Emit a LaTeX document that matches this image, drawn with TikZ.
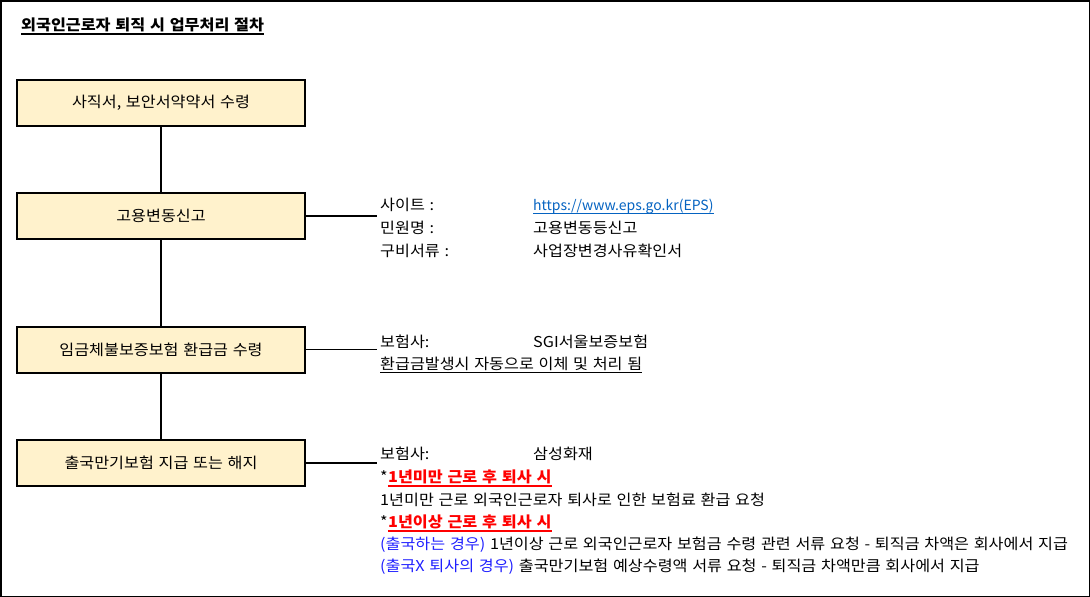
\documentclass[tikz,border=0pt]{standalone}
\usepackage{fontspec}
\setmainfont{Noto Sans CJK KR}[FakeStretch=1.08, WordSpace=1.3]
\newfontfamily\urlfont{Noto Sans CJK KR}
\definecolor{boxfill}{HTML}{FFF2CC}
\definecolor{linkblue}{HTML}{0563C1}
\definecolor{noteblue}{HTML}{2020FF}
\definecolor{notered}{HTML}{FF0000}
\tikzset{
  stepbox/.style={draw=black, line width=2pt, fill=boxfill, minimum width=288pt, minimum height=46pt, inner sep=0pt, font=\fontsize{15}{17}\selectfont},
  conn/.style={draw=black, line width=1.8pt},
  txt/.style={anchor=base west, inner sep=0pt, font=\fontsize{15}{17}\selectfont},
  uline/.style={line width=1.2pt},
}
\begin{document}
\begin{tikzpicture}[x=1pt,y=-1pt]
\useasboundingbox (0,0) rectangle (1090,597);
\draw[line width=1.5pt] (0.75,0.75) rectangle (1089.25,596.25);
\node[txt, font=\fontsize{15}{17}\selectfont\bfseries] (title) at (21,30) {외국인근로자 퇴직 시 업무처리 절차};
\draw[uline] ([yshift=-4pt]title.base west) -- ([yshift=-4pt]title.base east);

\node[stepbox] (b1) at (161,103) {사직서, 보안서약약서 수령};
\node[stepbox] (b2) at (161,216) {고용변동신고};
\node[stepbox] (b3) at (161,349.5) {임금체불보증보험 환급금 수령};
\node[stepbox] (b4) at (161,463) {출국만기보험 지급 또는 해지};

\draw[conn] (b1.south) -- (b2.north);
\draw[conn] (b2.south) -- (b3.north);
\draw[conn] (b3.south) -- (b4.north);

\coordinate (e2) at (377,216);
\coordinate (e3) at (377,349.5);
\coordinate (e4) at (377,463);
\draw[conn] (b2.east) -- (e2);
\draw[conn] (b3.east) -- (e3);
\draw[conn] (b4.east) -- (e4);

\node[txt] (s1) at (380,210) {사이트 :};
\node[txt, text=linkblue, font=\fontsize{14}{16}\urlfont] (s1v) at (533,210) {https://www.eps.go.kr(EPS)};
\draw[uline, linkblue, line width=0.9pt] ([yshift=-3pt]s1v.base west) -- ([yshift=-3pt]s1v.base east);
\node[txt] (s2) at (380,233) {민원명 :};
\node[txt] (s2v) at (533,233) {고용변동등신고};
\node[txt] (s3) at (380,256) {구비서류 :};
\node[txt] (s3v) at (533,256) {사업장변경사유확인서};

\node[txt] (r1) at (380,347) {보험사:};
\node[txt] (r1v) at (533,347) {SGI서울보증보험};
\node[txt] (r2) at (380,369) {환급금발생시 자동으로 이체 및 처리 됨};
\draw[uline, line width=1pt] ([yshift=-3.5pt]r2.base west) -- ([yshift=-3.5pt]r2.base east);

\node[txt] (t1) at (380,459) {보험사:};
\node[txt] (t1v) at (533,459) {삼성화재};
\node[txt] (t2s) at (380,482) {*};
\node[txt, text=notered, font=\fontsize{15}{17}\selectfont\bfseries] (t2) at (t2s.base east) {1년미만 근로 후 퇴사 시};
\draw[uline, notered, line width=1.2pt] ([yshift=-4pt]t2.base west) -- ([yshift=-4pt]t2.base east);
\node[txt] (t3) at (380,505) {1년미만 근로 외국인근로자 퇴사로 인한 보험료 환급 요청};
\node[txt] (t4s) at (380,527) {*};
\node[txt, text=notered, font=\fontsize{15}{17}\selectfont\bfseries] (t4) at (t4s.base east) {1년이상 근로 후 퇴사 시};
\draw[uline, notered, line width=1.2pt] ([yshift=-4pt]t4.base west) -- ([yshift=-4pt]t4.base east);
\node[txt] (t5) at (380,549) {\textcolor{noteblue}{(출국하는 경우)} 1년이상 근로 외국인근로자 보험금 수령 관련 서류 요청 - 퇴직금 차액은 회사에서 지급};
\node[txt] (t6) at (380,571) {\textcolor{noteblue}{(출국X 퇴사의 경우)} 출국만기보험 예상수령액 서류 요청 - 퇴직금 차액만큼 회사에서 지급};
\end{tikzpicture}
\end{document}
